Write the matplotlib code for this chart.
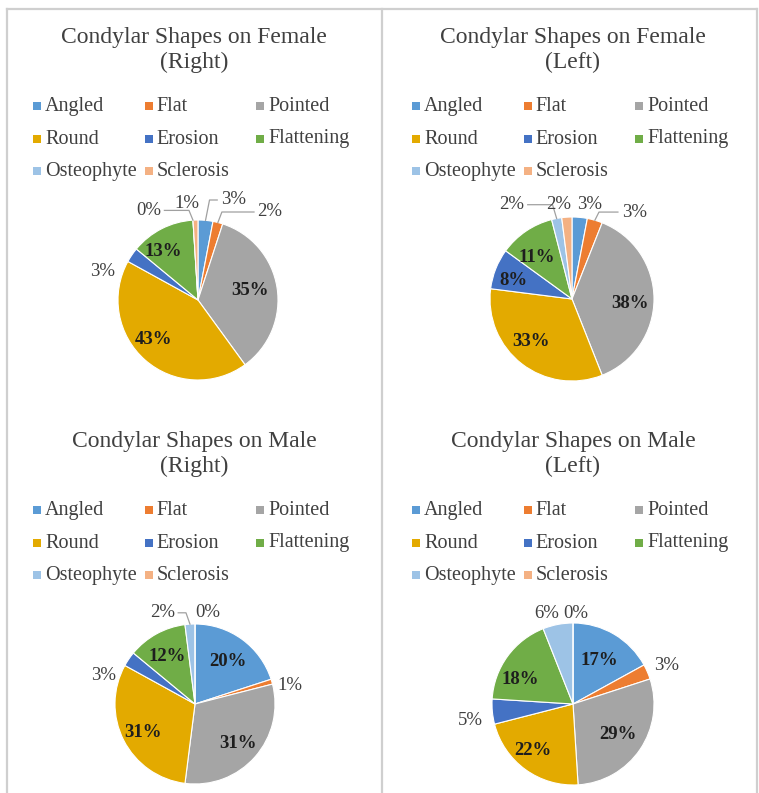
import numpy as np
import matplotlib.pyplot as plt
from matplotlib.patches import Rectangle
from matplotlib.lines import Line2D

# data (percent)
categories = ['Angled', 'Flat', 'Pointed', 'Round', 'Erosion', 'Flattening', 'Osteophyte', 'Sclerosis']
female_right = [3, 2, 35, 43, 3, 13, 0, 1]
female_left = [3, 3, 38, 33, 8, 11, 2, 2]
male_right = [20, 1, 31, 31, 3, 12, 2, 0]
male_left = [17, 3, 29, 22, 5, 18, 6, 0]
titles = [('Condylar Shapes on Female', '(Right)'),
          ('Condylar Shapes on Female', '(Left)'),
          ('Condylar Shapes on Male', '(Right)'),
          ('Condylar Shapes on Male', '(Left)')]

colors = ['#5B9BD5', '#ED7D31', '#A5A5A5', '#E3AA00', '#4472C4', '#70AD47', '#9DC3E6', '#F4B183']

W, H = 759, 793
fig = plt.figure(figsize=(W / 100, H / 100), dpi=100)
font = 'Liberation Serif'
txt_col = '#404040'


def fx(x):
    return x / W


def fy(y):
    return 1 - y / H


# label placement in pie-radius units, one per slice
label_pos = [
    [(0.44, 1.25), (0.90, 1.10), (0.65, 0.12), (-0.56, -0.50), (-1.19, 0.35), (-0.44, 0.60), (-0.62, 1.12), (-0.14, 1.21)],
    [(0.22, 1.15), (0.76, 1.06), (0.71, -0.05), (-0.50, -0.52), (-0.71, 0.23), (-0.43, 0.51), (-0.74, 1.15), (-0.16, 1.15)],
    [(0.41, 0.53), (1.19, 0.23), (0.54, -0.49), (-0.65, -0.36), (-1.14, 0.35), (-0.35, 0.59), (-0.41, 1.14), (0.16, 1.14)],
    [(0.33, 0.54), (1.15, 0.48), (0.56, -0.38), (-0.49, -0.57), (-1.27, -0.20), (-0.65, 0.30), (-0.32, 1.12), (0.03, 1.12)],
]
leaders = [[6, 0, 1], [6, 1], [6], []]

panels = [
    (female_right, (198, 300), 80, 0, 0),
    (female_left, (572, 299), 82, 379, 0),
    (male_right, (195, 704), 80, 0, 404),
    (male_left, (573, 704), 81, 379, 404),
]

# light frame around the panels
for xs, ys in [((7, 757), (9, 9)), ((7, 7), (9, 793)), ((382, 382), (9, 793)), ((757, 757), (9, 793))]:
    fig.add_artist(Line2D([fx(x) for x in xs], [fy(y) for y in ys], color='#cfcfcf', lw=1.6))

for k, (vals, (cx, cy), r, dx, dy) in enumerate(panels):
    # title
    fig.text(fx(194 + dx), fy(37 + dy), titles[k][0], ha='center', va='center',
             fontsize=17, family=font, color=txt_col)
    fig.text(fx(194 + dx), fy(62 + dy), titles[k][1], ha='center', va='center',
             fontsize=17, family=font, color=txt_col)

    # legend, three equal-width columns
    for i, name in enumerate(categories):
        row, col = i // 3, i % 3
        mx = 33 + dx + col * 111.5
        my = 106 + dy + row * 32.5
        fig.add_artist(Rectangle((fx(mx), fy(my + 4)), 8 / W, 8 / H,
                                 transform=fig.transFigure, color=colors[i], lw=0))
        fig.text(fx(mx + 12), fy(my + 5), name, ha='left', va='baseline',
                 fontsize=14.5, family=font, color=txt_col)

    # pie
    s = 1.6 * r
    ax = fig.add_axes([fx(cx - s), fy(cy + s), 2 * s / W, 2 * s / H])
    ax.pie(vals, colors=colors, startangle=90, counterclock=False,
           wedgeprops=dict(edgecolor='white', linewidth=0.8))
    ax.set_xlim(-1.6, 1.6)
    ax.set_ylim(-1.6, 1.6)
    ax.set_aspect('equal')
    ax.axis('off')

    total = float(sum(vals))
    cum = np.cumsum([0] + vals[:-1])
    for i, v in enumerate(vals):
        px, py = label_pos[k][i]
        inside = v >= 8
        ax.text(px, py, f'{v}%', ha='center', va='center', fontsize=13.5, family=font,
                color='#1e1e1e' if inside else txt_col,
                fontweight='bold' if inside else 'normal')
        if i in leaders[k]:
            ang = np.radians(90 - 360 * (cum[i] + v / 2) / total)
            ex, ey = np.cos(ang), np.sin(ang)
            sx = px + 0.2 if ex > px else px - 0.2
            ax.plot([sx, ex + (0.05 if ex < sx else -0.05), ex], [py, py, ey],
                    color='#a0a0a0', lw=0.9, clip_on=False)

fig.savefig('out.png', dpi=100)
